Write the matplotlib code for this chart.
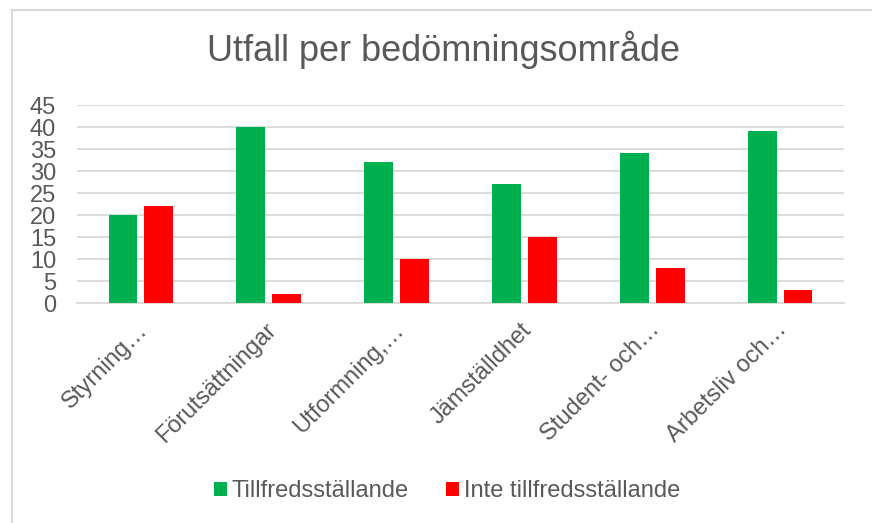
import matplotlib
matplotlib.use('Agg')
import matplotlib.pyplot as plt
from matplotlib.lines import Line2D
import numpy as np

# data
categories = ['Styrning…', 'Förutsättningar', 'Utformning,…', 'Jämställdhet',
              'Student- och…', 'Arbetsliv och…']
tillfreds = [20, 40, 32, 27, 34, 39]
inte_tillfreds = [22, 2, 10, 15, 8, 3]
series_names = ['Tillfredsställande', 'Inte tillfredsställande']
y_ticks = [0, 5, 10, 15, 20, 25, 30, 35, 40, 45]

plt.rcParams['font.family'] = ['Liberation Sans', 'DejaVu Sans']
text_color = '#595959'
green = '#00b050'
red = '#ff0000'
W, H = 872, 523

fig = plt.figure(figsize=(W / 100, H / 100), dpi=100)
fig.patch.set_facecolor('white')

# chart border (only left and top edges visible in the crop)
fig.add_artist(Line2D([12 / W, 12 / W], [0, 1 - 9.5 / H], transform=fig.transFigure,
                      color='#d9d9d9', lw=1.5))
fig.add_artist(Line2D([12 / W, 1], [1 - 9.5 / H, 1 - 9.5 / H], transform=fig.transFigure,
                      color='#d9d9d9', lw=1.5))

ax = fig.add_axes([77 / W, 1 - 303 / H, (844 - 77) / W, (303 - 105) / H])
x = np.arange(len(categories))
width = 0.225
off = 0.14
ax.bar(x - off, tillfreds, width, color=green, label=series_names[0], zorder=3)
ax.bar(x + off, inte_tillfreds, width, color=red, label=series_names[1], zorder=3)

ax.set_xlim(-0.5, len(categories) - 0.5)
ax.set_ylim(0, 45)
ax.set_yticks(y_ticks)
ax.yaxis.grid(True, color='#d9d9d9', lw=1.3, zorder=0)
ax.set_axisbelow(True)
for s in ['top', 'right', 'left']:
    ax.spines[s].set_visible(False)
ax.spines['bottom'].set_color('#d9d9d9')
ax.spines['bottom'].set_linewidth(1.3)
ax.tick_params(axis='y', length=0, labelsize=17, labelcolor=text_color, pad=15)
ax.tick_params(axis='x', length=0, labelsize=17, labelcolor=text_color)
ax.set_xticks(x)
ax.set_xticklabels(categories, rotation=45, ha='right', va='top', rotation_mode='anchor')
for lab in ax.get_xticklabels():
    lab.set_transform(lab.get_transform() + matplotlib.transforms.ScaledTranslation(-0.04, -0.11, fig.dpi_scale_trans))

fig.text(443 / W, 1 - 50 / H, 'Utfall per bedömningsområde', ha='center', va='center',
         fontsize=26, color=text_color)

leg = fig.legend(loc='center', bbox_to_anchor=(447 / W, 1 - 491 / H), ncol=2, frameon=False,
                 fontsize=17, handlelength=0.55, handleheight=0.55, handletextpad=0.2,
                 columnspacing=1.6)
for t in leg.get_texts():
    t.set_color(text_color)

plt.savefig('out.png', dpi=100, facecolor='white')
